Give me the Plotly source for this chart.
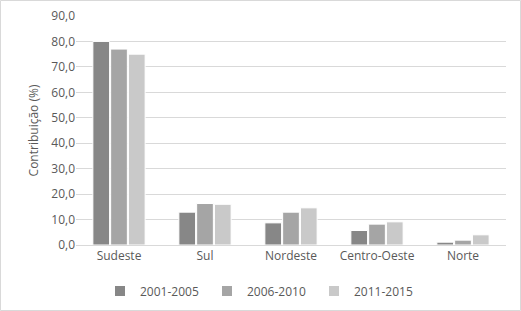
import plotly.graph_objects as go

categories = ["Sudeste", "Sul", "Nordeste", "Centro-Oeste", "Norte"]
series_names = ["2001-2005", "2006-2010", "2011-2015"]
v2001_2005 = [80.0, 12.9, 8.7, 5.7, 1.1]
v2006_2010 = [77.0, 16.3, 12.9, 8.2, 1.9]
v2011_2015 = [75.0, 16.0, 14.6, 9.1, 4.0]
tick_vals = [0, 10, 20, 30, 40, 50, 60, 70, 80, 90]
tick_text = ["0,0", "10,0", "20,0", "30,0", "40,0", "50,0", "60,0", "70,0", "80,0", "90,0"]

colors = ["#878787", "#a5a5a5", "#c9c9c9"]
font_family = "Open Sans, Liberation Sans, sans-serif"

W, H = 521, 311
L, R, T, B = 76, 15, 16, 66
pw, ph = W - L - R, H - T - B

fig = go.Figure()
for name, vals, c in zip(series_names, [v2001_2005, v2006_2010, v2011_2015], colors):
    fig.add_trace(go.Bar(x=categories, y=vals, name=name, marker_color=c,
                         marker_line_color="white", marker_line_width=1))

fig.update_layout(
    width=W, height=H,
    barmode="group", bargap=0.38, bargroupgap=0.06,
    paper_bgcolor="white", plot_bgcolor="white",
    margin=dict(l=L, r=R, t=T, b=B, autoexpand=False),
    font=dict(family=font_family, size=12, color="#595959"),
    legend=dict(orientation="h", x=0.5, xref="container", xanchor="center",
                y=1 - 291 / H, yref="container", yanchor="middle",
                font=dict(size=12, color="#595959"), traceorder="normal",
                itemsizing="constant", entrywidth=62, entrywidthmode="pixels"),
    showlegend=True,
    shapes=[dict(type="rect", xref="paper", yref="paper",
                 x0=(0.5 - L) / pw, x1=(W - 0.5 - L) / pw,
                 y0=(T + ph - (H - 0.5)) / ph, y1=(T + ph - 0.5) / ph,
                 line=dict(color="#d9d9d9", width=1), layer="below")],
)
fig.update_yaxes(range=[0, 90], tickvals=tick_vals, ticktext=tick_text,
                 showgrid=True, gridcolor="#d9d9d9", gridwidth=1, zeroline=False,
                 showline=False, ticks="", ticklen=0, automargin=False,
                 tickfont=dict(size=12, color="#595959"),
                 title=dict(text="Contribuição (%)", font=dict(size=12, color="#595959"), standoff=10))
fig.update_xaxes(showline=True, linecolor="#d9d9d9", linewidth=1, ticks="", showgrid=False,
                 automargin=False, tickfont=dict(size=12, color="#595959"))

fig.write_html("out.html", config={"displayModeBar": False},
               post_script="document.body.style.margin='0';")
